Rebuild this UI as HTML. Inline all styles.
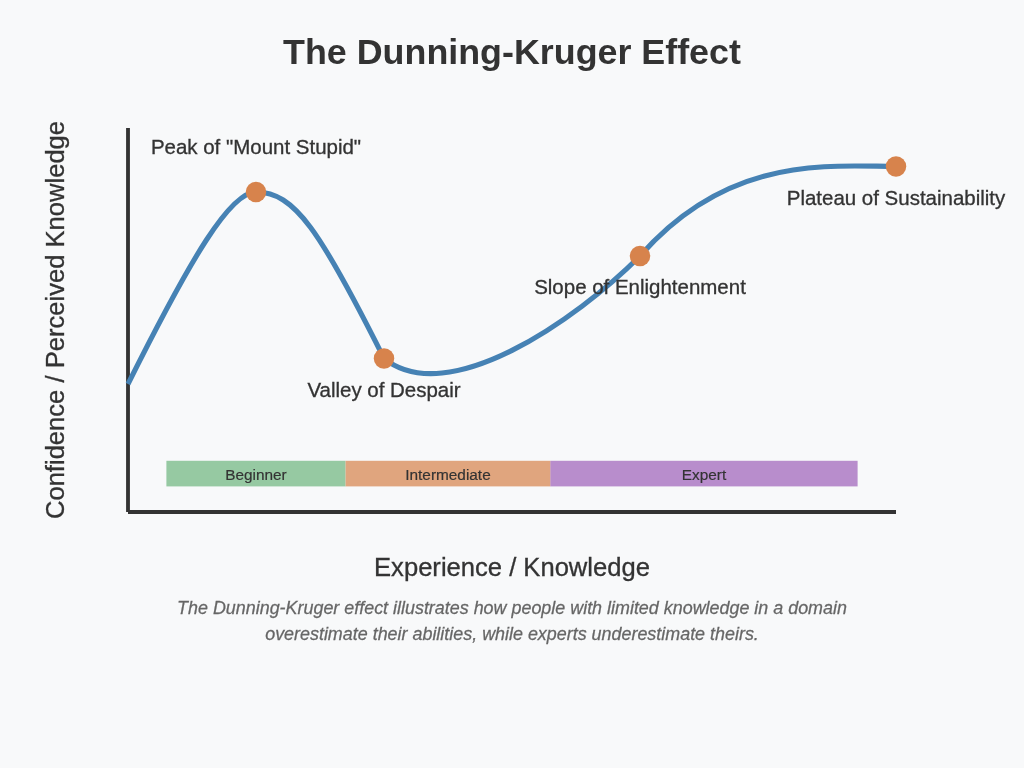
<!DOCTYPE html>
<html>
<head>
<meta charset="utf-8">
<title>The Dunning-Kruger Effect</title>
<style>
html,body{margin:0;padding:0;background:#f8f9fa;}
body{width:1024px;height:768px;overflow:hidden;font-family:"Liberation Sans",sans-serif;}
svg{display:block;will-change:transform;}
svg text{font-family:"Liberation Sans",sans-serif;}
.t{stroke:#333333;stroke-width:0.25;}
.c{stroke:#666666;stroke-width:0.2;}
.s{stroke:#333333;stroke-width:0.15;}
</style>
</head>
<body>
<svg width="1024" height="768" viewBox="0 0 800 600">
  <text x="400" y="50" text-anchor="middle" font-size="28" font-weight="bold" fill="#333333">The Dunning-Kruger Effect</text>
  <!-- axes -->
  <line x1="100" y1="100" x2="100" y2="400" stroke="#333333" stroke-width="3"/>
  <line x1="100" y1="400" x2="700" y2="400" stroke="#333333" stroke-width="3"/>
  <!-- stage bars -->
  <rect x="130" y="360" width="140" height="20" fill="#55a868" fill-opacity="0.6"/>
  <rect x="270" y="360" width="160" height="20" fill="#e0a57e"/>
  <rect x="430" y="360" width="240" height="20" fill="#8e44ad" fill-opacity="0.6"/>
  <text class="s" x="200" y="375" text-anchor="middle" font-size="12" fill="#333333">Beginner</text>
  <text class="s" x="350" y="375" text-anchor="middle" font-size="12" fill="#333333">Intermediate</text>
  <text class="s" x="550" y="375" text-anchor="middle" font-size="12" fill="#333333">Expert</text>
  <!-- curve -->
  <path d="M100,300 C150,200 180,150 200,150 C230,150 250,180 300,280 C350,320 450,250 500,200 C570,120 650,130 700,130" fill="none" stroke="#4682b4" stroke-width="4"/>
  <!-- points -->
  <circle cx="200" cy="150" r="8" fill="#d7834c"/>
  <circle cx="300" cy="280" r="8" fill="#d7834c"/>
  <circle cx="500" cy="200" r="8" fill="#d7834c"/>
  <circle cx="700" cy="130" r="8" fill="#d7834c"/>
  <!-- labels -->
  <text class="t" x="200" y="120" text-anchor="middle" font-size="16" fill="#333333">Peak of "Mount Stupid"</text>
  <text class="t" x="300" y="310" text-anchor="middle" font-size="16" fill="#333333">Valley of Despair</text>
  <text class="t" x="500" y="230" text-anchor="middle" font-size="16" fill="#333333">Slope of Enlightenment</text>
  <text class="t" x="700" y="160" text-anchor="middle" font-size="16" fill="#333333">Plateau of Sustainability</text>
  <!-- axis labels -->
  <text class="t" x="400" y="450" text-anchor="middle" font-size="20" fill="#333333">Experience / Knowledge</text>
  <text class="t" x="-250" y="50" transform="rotate(-90)" text-anchor="middle" font-size="20" fill="#333333">Confidence / Perceived Knowledge</text>
  <!-- caption -->
  <text class="c" x="400" y="480" text-anchor="middle" font-size="14" font-style="italic" fill="#666666">The Dunning-Kruger effect illustrates how people with limited knowledge in a domain</text>
  <text class="c" x="400" y="500" text-anchor="middle" font-size="14" font-style="italic" fill="#666666">overestimate their abilities, while experts underestimate theirs.</text>
</svg>
</body>
</html>
